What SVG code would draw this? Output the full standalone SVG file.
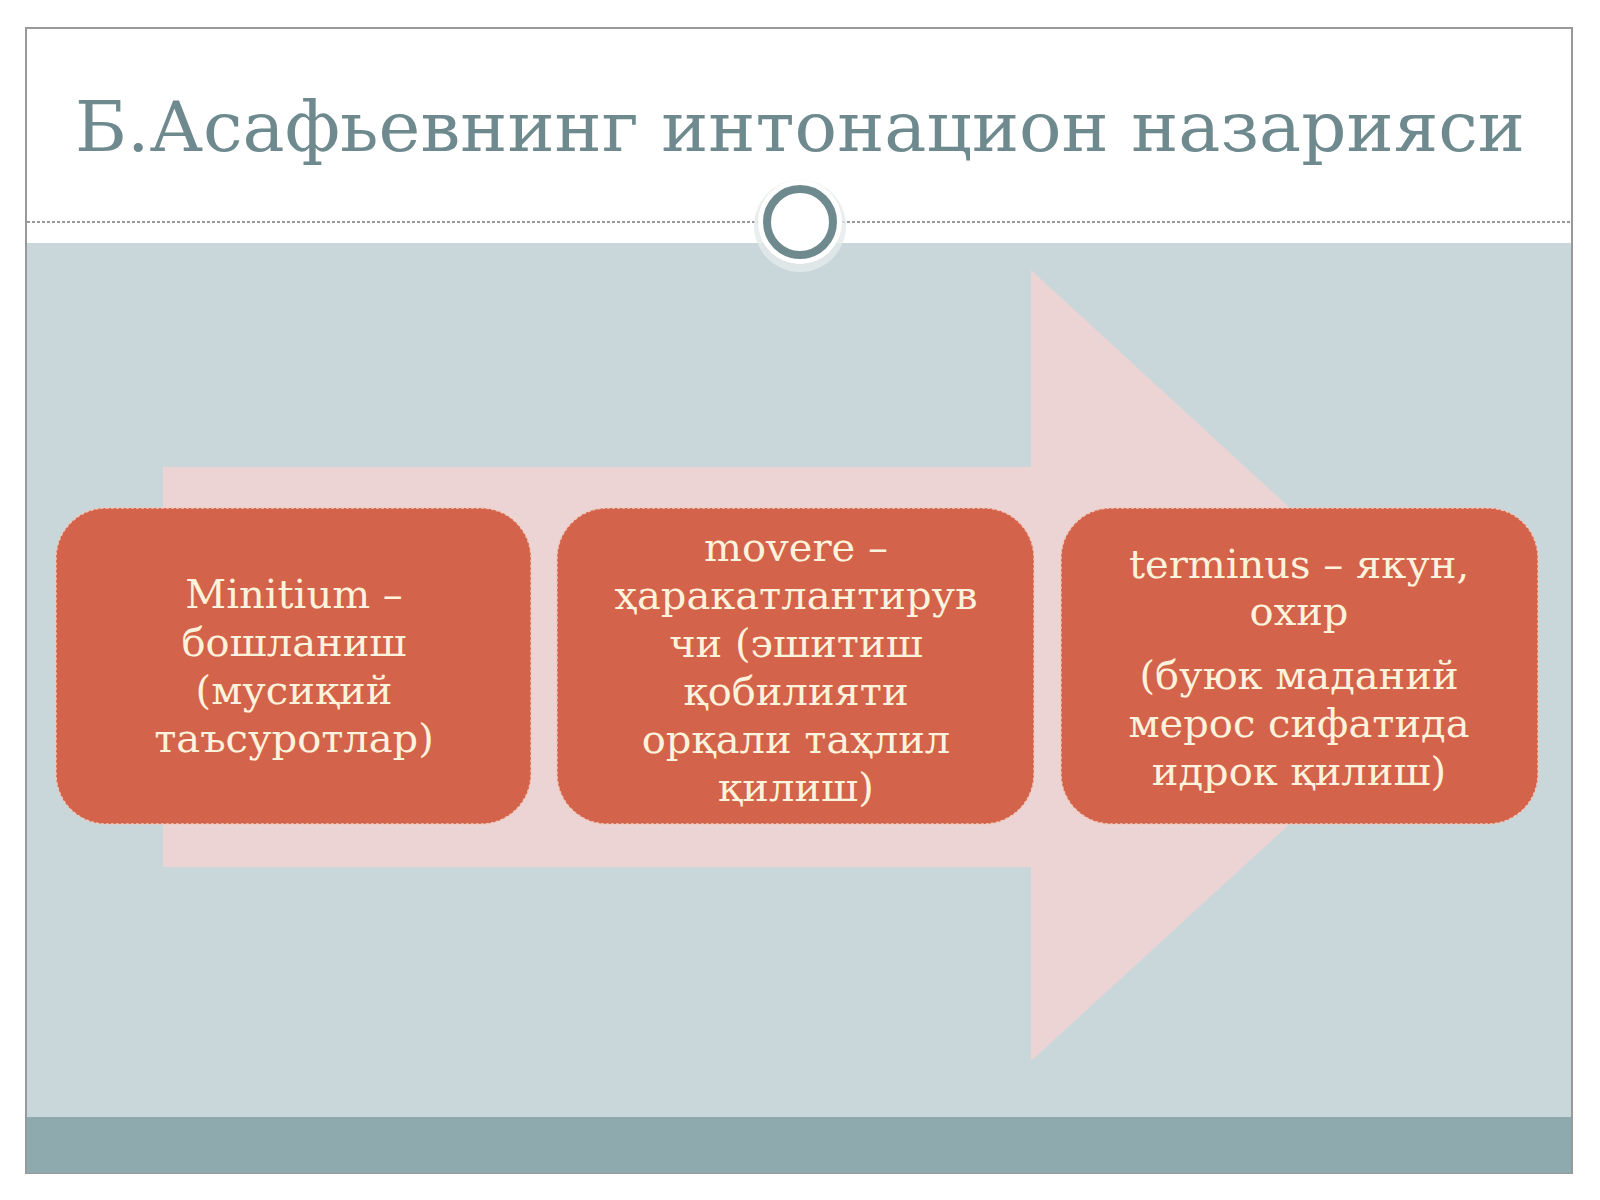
<svg xmlns="http://www.w3.org/2000/svg" width="1600" height="1200" viewBox="0 0 1600 1200">
<defs>
<style>
.bt{font-family:"DejaVu Serif","Liberation Serif",serif;font-size:40px;fill:#fdf3dc;text-anchor:middle}
.box{fill:#d4634b;stroke:#f0c8b8;stroke-width:1.5;stroke-dasharray:3 2}
</style>
</defs>
<rect width="1600" height="1200" fill="#fff"/>
<rect x="26" y="28" width="1546" height="1145" fill="#fff" stroke="#999" stroke-width="2"/>
<rect x="27" y="243" width="1544" height="874" fill="#c9d6da"/>
<rect x="27" y="1117" width="1544" height="56" fill="#8eaaae"/>
<line x1="27" y1="222" x2="1571" y2="222" stroke="#777" stroke-width="1.5" stroke-dasharray="3 2"/>
<text x="800" y="151" font-family="DejaVu Serif, Liberation Serif, serif" font-size="70" fill="#6f8a8e" text-anchor="middle" textLength="1450" lengthAdjust="spacingAndGlyphs">Б.Асафьевнинг интонацион назарияси</text>
<circle cx="800" cy="226" r="46" fill="#e4eaeb" opacity="0.8"/>
<circle cx="800" cy="222" r="42" fill="#fff"/>
<circle cx="800" cy="222" r="33" fill="#fff" stroke="#6f8a8e" stroke-width="8"/>
<polygon points="163,467 1031,467 1031,270 1462,666 1031,1061 1031,867 163,867" fill="#f2d4d2" opacity="0.85"/>
<g id="box1"><rect class="box" x="56" y="508" width="475" height="316" rx="50"/>
<text class="bt"><tspan x="294" y="608">Minitium –</tspan><tspan x="294" y="656">бошланиш</tspan><tspan x="294" y="704">(мусиқий</tspan><tspan x="294" y="752">таъсуротлар)</tspan></text></g>
<g id="box2"><rect class="box" x="557" y="508" width="477" height="316" rx="50"/>
<text class="bt"><tspan x="796" y="561">movere –</tspan><tspan x="796" y="609">ҳаракатлантирув</tspan><tspan x="796" y="657">чи (эшитиш</tspan><tspan x="796" y="705">қобилияти</tspan><tspan x="796" y="753">орқали таҳлил</tspan><tspan x="796" y="801">қилиш)</tspan></text></g>
<g id="box3"><rect class="box" x="1061" y="508" width="477" height="316" rx="50"/>
<text class="bt"><tspan x="1299" y="578">terminus – якун,</tspan><tspan x="1299" y="625">охир</tspan><tspan x="1299" y="689">(буюк маданий</tspan><tspan x="1299" y="737">мерос сифатида</tspan><tspan x="1299" y="785">идрок қилиш)</tspan></text></g>
<g id="connectors"/>
</svg>
